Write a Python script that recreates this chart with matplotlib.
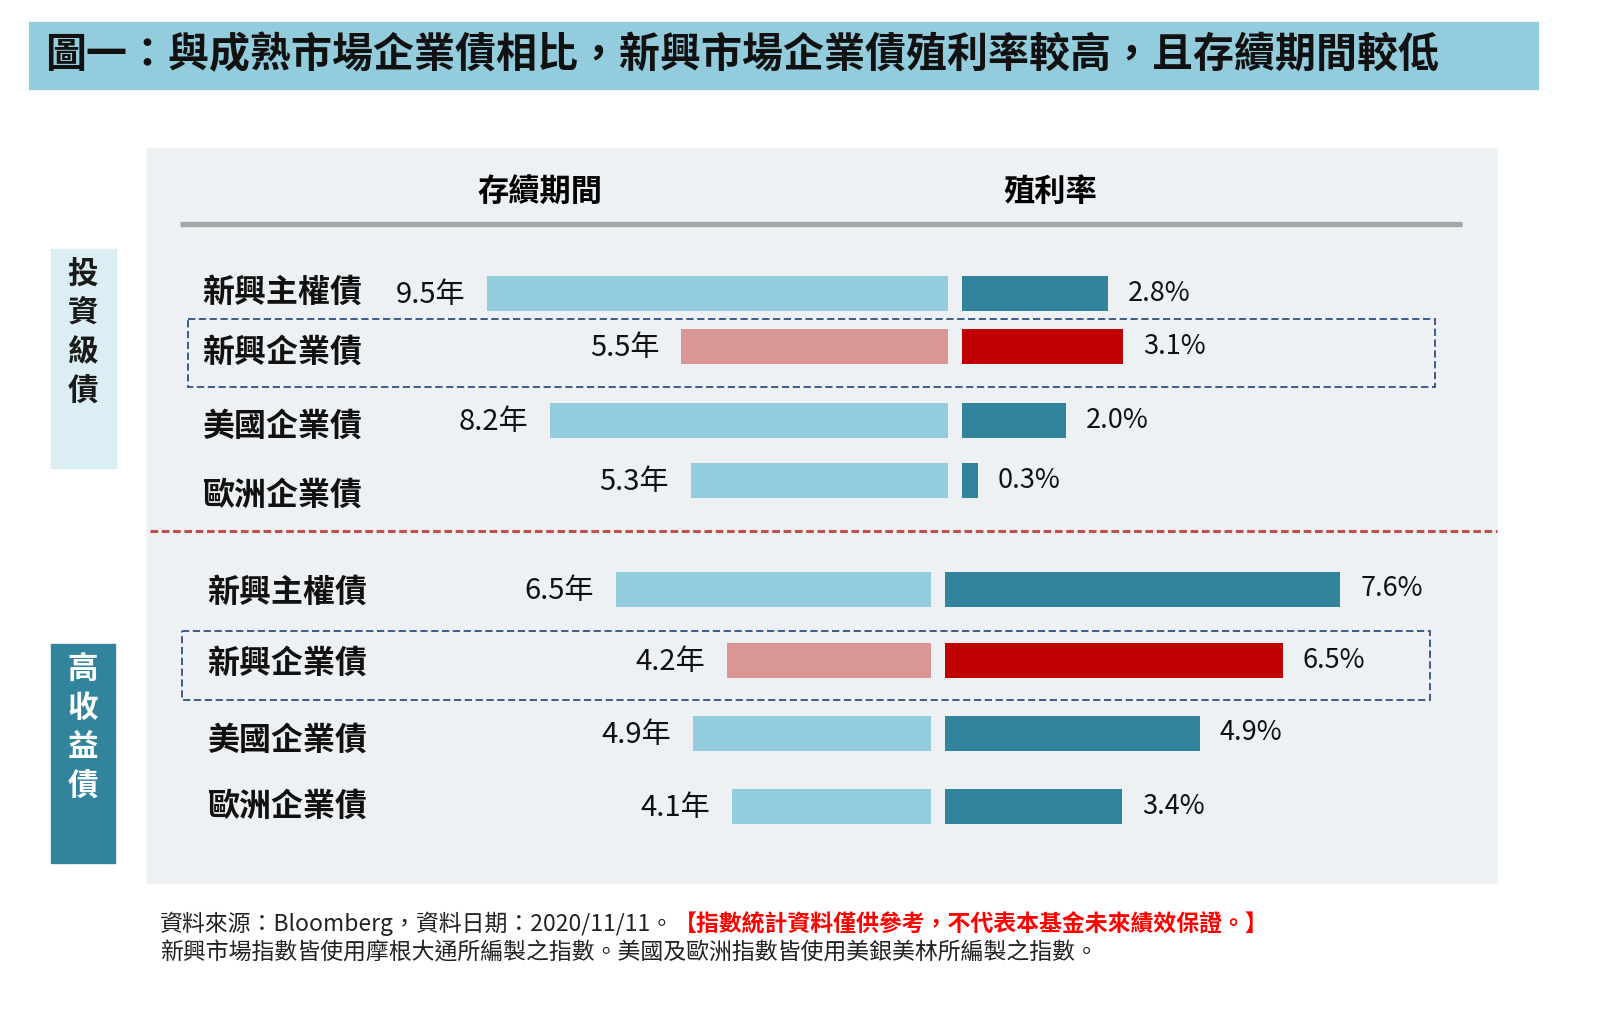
import matplotlib.pyplot as plt
from matplotlib.patches import Rectangle

W, H = 1600, 1009
plt.rcParams['font.family'] = ['Noto Sans CJK TC', 'DejaVu Sans']

# data
title = '圖一：與成熟市場企業債相比，新興市場企業債殖利率較高，且存續期間較低'
col_headers = ['存續期間', '殖利率']
group_labels = ['投資級債', '高收益債']
ig_names = ['新興主權債', '新興企業債', '美國企業債', '歐洲企業債']
ig_duration = [9.5, 5.5, 8.2, 5.3]
ig_yield = [2.8, 3.1, 2.0, 0.3]
hy_names = ['新興主權債', '新興企業債', '美國企業債', '歐洲企業債']
hy_duration = [6.5, 4.2, 4.9, 4.1]
hy_yield = [7.6, 6.5, 4.9, 3.4]
highlight = '新興企業債'
note_1a = '資料來源：Bloomberg，資料日期：2020/11/11。'
note_1b = '【指數統計資料僅供參考，不代表本基金未來績效保證。】'
note_2 = '新興市場指數皆使用摩根大通所編製之指數。美國及歐洲指數皆使用美銀美林所編製之指數。'

LIGHT = '#93CDDD'
TEAL = '#31849B'
PINK = '#D99694'
RED = '#C00000'
PANEL = '#EDF1F3'
DUR_PX = 48.5   # pixels per year
YLD_PX = 52     # pixels per percent

fig = plt.figure(figsize=(16, 10.09), dpi=100)
bg = fig.add_axes([0, 0, 1, 1])
bg.set_xlim(0, W)
bg.set_ylim(H, 0)
bg.axis('off')


def box(x0, y0, x1, y1, **kw):
    bg.add_patch(Rectangle((x0, y0), x1 - x0, y1 - y0, **kw))


def px_axes(x0, x1, y0, y1):
    ax = fig.add_axes([x0 / W, 1 - y1 / H, (x1 - x0) / W, (y1 - y0) / H])
    ax.set_ylim(y1, y0)
    ax.axis('off')
    return ax


# title banner
box(29, 22, 1538, 89, color=LIGHT)
bg.text(45, 55, title, fontsize=29.5, weight='bold', va='center', color='#111111')

# panel
box(147, 148, 1497, 883, color=PANEL)
bg.text(540, 192, col_headers[0], fontsize=22.5, weight='bold', ha='center', va='center')
bg.text(1050, 192, col_headers[1], fontsize=22.5, weight='bold', ha='center', va='center')
bg.plot([180, 1462], [224, 224], color='#A5A5A5', lw=3.8, solid_capstyle='butt')

# side group boxes
box(51, 249, 116, 468, color='#DAEEF3')
box(51, 644, 115, 863, color=TEAL)
for i, ch in enumerate(group_labels[0]):
    bg.text(83, 274 + 39 * i, ch, fontsize=22, weight='bold', ha='center', va='center', color='#1a1a1a')
for i, ch in enumerate(group_labels[1]):
    bg.text(83, 669 + 39 * i, ch, fontsize=22, weight='bold', ha='center', va='center', color='white')

# faint row strips
for (x0, x1, y0, y1) in [(535, 1375, 325, 370), (529, 1380, 398, 445), (545, 1378, 458, 503),
                         (515, 1350, 640, 685), (515, 1350, 712, 757), (515, 1350, 783, 828)]:
    box(x0, y0, x1, y1, color='#F4F5F5', zorder=0.5)

# separators and highlight boxes
bg.plot([150, 1497], [531, 531], color='#C0504D', lw=2.2, dashes=(2.5, 1.2))
box(188, 319, 1435, 387, fill=False, ec='#2F5080', lw=1.3, ls=(0, (4, 2)))
box(182, 631, 1430, 700, fill=False, ec='#2F5080', lw=1.3, ls=(0, (4, 2)))


def draw_group(names, dur, yld, rows_y, label_y, label_x, dur_right, yld_left, y0, y1):
    dax = px_axes(dur_right - 10 * DUR_PX, dur_right, y0, y1)
    dax.set_xlim(10, 0)
    yax = px_axes(yld_left, yld_left + 8 * YLD_PX, y0, y1)
    yax.set_xlim(0, 8)
    dcol = [PINK if n == highlight else LIGHT for n in names]
    ycol = [RED if n == highlight else TEAL for n in names]
    dax.barh(rows_y, dur, height=35, color=dcol)
    yax.barh(rows_y, yld, height=35, color=ycol)
    for n, d, v, ry, ly in zip(names, dur, yld, rows_y, label_y):
        bg.text(label_x, ly, n, fontsize=23, weight='bold', va='center', color='#111111')
        dax.annotate(f'{d}年', xy=(d, ry), xytext=(-22, -2), textcoords='offset pixels',
                     ha='right', va='center', fontsize=21, color='#111111')
        yax.annotate(f'{v}%', xy=(v, ry), xytext=(20, 0), textcoords='offset pixels',
                     ha='left', va='center', fontsize=19.5, color='#111111')


draw_group(ig_names, ig_duration, ig_yield, [293, 346, 420, 480], [293, 353, 427, 496],
           202, 948, 962, 260, 515)
draw_group(hy_names, hy_duration, hy_yield, [589, 660, 733, 806], [593, 664, 741, 807],
           207, 931, 945, 555, 845)

# footnotes
t1 = bg.text(160, 924, note_1a, fontsize=16.5, va='center', color='#222222')
bg.annotate(note_1b, xy=(1, 0.5), xycoords=t1, ha='left', va='center',
            fontsize=16.5, weight='bold', color='#FF0000')
bg.text(160, 953, note_2, fontsize=16.5, va='center', color='#222222')

fig.savefig('out.png', dpi=100)
